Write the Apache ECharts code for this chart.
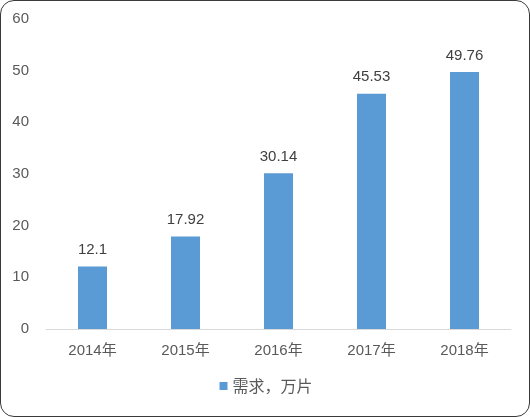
<!DOCTYPE html>
<html><head><meta charset="utf-8">
<script src="https://cdn.jsdelivr.net/npm/echarts@6/dist/echarts.min.js"></script>
<style>
html,body{margin:0;padding:0;background:#fff;}
#wrap{width:530px;height:417px;box-sizing:border-box;border:1.5px solid #3a3a3a;border-radius:14px;position:relative;overflow:hidden;}
#chart{position:absolute;left:0;top:0;width:530px;height:417px;}
</style></head>
<body>
<div id="wrap"><div id="chart"></div></div>
<script>
const categories = ['2014年','2015年','2016年','2017年','2018年'];
const demand = [12.1, 17.92, 30.14, 45.53, 49.76];
const seriesName = '需求，万片';
const FONT = '"Liberation Sans","Noto Sans CJK SC",sans-serif';
const CJK = '"Noto Sans CJK SC",sans-serif';
const chart = echarts.init(document.getElementById('chart'));
chart.setOption({
  animation:false,
  textStyle:{fontFamily:FONT},
  grid:{left:45,right:20,top:18,bottom:89},
  legend:{show:true,bottom:19,left:'center',itemWidth:8,itemHeight:8,itemGap:5,icon:'rect',
    textStyle:{color:'#595959',fontSize:16,fontFamily:CJK},data:[seriesName]},
  xAxis:{type:'category',data:categories,
    axisLine:{lineStyle:{color:'#D9D9D9',width:1}},axisTick:{show:false},
    axisLabel:{color:'#595959',fontSize:15,margin:14,fontFamily:FONT}},
  yAxis:{type:'value',min:0,max:60,interval:10,
    axisLine:{show:false},axisTick:{show:false},splitLine:{show:false},
    axisLabel:{color:'#595959',fontSize:15,margin:17,fontFamily:FONT}},
  series:[{name:seriesName,type:'bar',data:demand,barWidth:29,
    itemStyle:{color:'#5B9BD5'},
    label:{show:true,position:'top',distance:9,color:'#404040',fontSize:15,fontFamily:FONT}}]
});
</script>
</body></html>
